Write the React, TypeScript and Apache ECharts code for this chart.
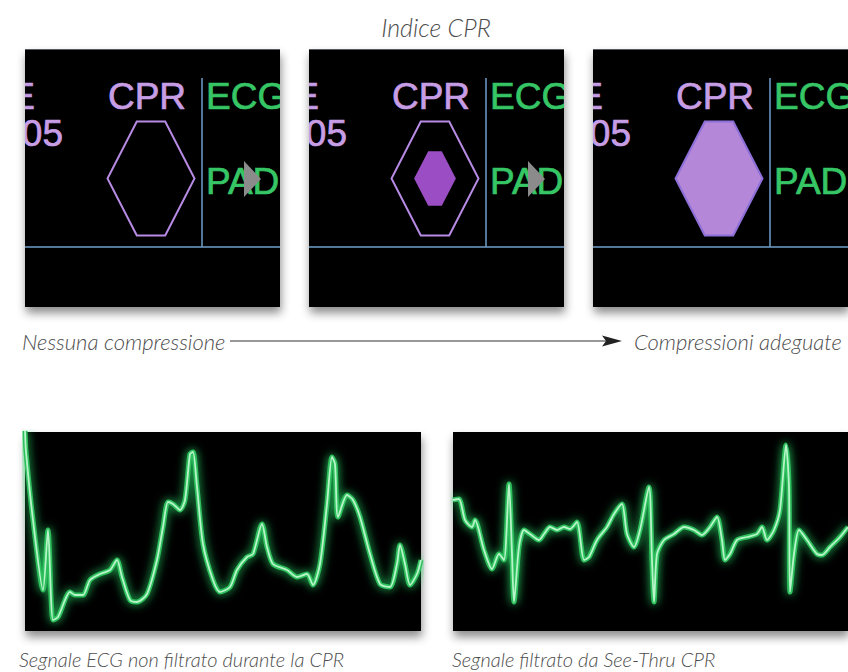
import React, { useEffect, useRef } from "react";
import * as echarts from "echarts";

// ---------- data ----------
const chartTitle = "Indice CPR";
const cprLevels = [0, 0.48, 1];
const panelWords = ["E", "05", "CPR", "ECG", "PAD"];
const topCaptions = ["Nessuna compressione", "Compressioni adeguate"];
const bottomCaptions = [
  "Segnale ECG non filtrato durante la CPR",
  "Segnale filtrato da See-Thru CPR",
];

// unfiltered ECG during CPR (time units, amplitude units)
const uTime = [0, 1, 8, 18, 23, 28, 33, 45, 50, 58, 65, 75, 85, 92, 97, 105, 112, 122, 132, 138, 143, 148, 155, 160, 165, 168, 172, 178, 188, 195, 205, 212, 222, 228, 237, 242, 248, 262, 272, 282, 288, 295, 302, 307, 310, 313, 322, 328, 335, 345, 355, 365, 372, 375, 380, 385, 392, 396];
const uAmp = [200, 179, 111, 41, 101, 11, 14, 39, 36, 36, 51, 57, 61, 71, 54, 31, 29, 37, 71, 104, 129, 127, 121, 131, 177, 179, 144, 87, 51, 39, 44, 61, 74, 77, 107, 84, 67, 61, 54, 57, 46, 67, 127, 174, 167, 114, 136, 131, 114, 77, 47, 44, 67, 86, 67, 46, 57, 71];

// filtered (See-Thru CPR)
const fTime = [0, 6, 12, 19, 22, 31, 39, 46, 51, 56, 59, 61, 66, 71, 77, 86, 91, 97, 104, 111, 117, 124, 131, 136, 144, 154, 161, 169, 174, 181, 187, 196, 199, 201, 204, 211, 221, 231, 241, 249, 257, 264, 269, 272, 277, 284, 294, 304, 309, 314, 321, 327, 333, 336, 337, 341, 346, 354, 364, 369, 377, 387, 395];
const fAmp = [131, 132, 111, 104, 111, 81, 62, 77, 71, 147, 77, 29, 84, 101, 97, 91, 97, 104, 101, 104, 102, 109, 71, 74, 91, 104, 117, 127, 97, 84, 101, 144, 71, 29, 77, 91, 97, 104, 101, 96, 104, 114, 91, 71, 77, 91, 94, 97, 104, 91, 101, 121, 186, 144, 39, 77, 101, 91, 77, 76, 84, 94, 104];

// ---------- layout / style ----------
const TOP_LEFTS = [25, 309, 593];
const TOP_Y = 49;
const TOP_W = 255;
const TOP_H = 258;
const BOT_Y = 432;
const BOT_H = 199;
const LAV = "#c79de6";
const GREEN = "#36c665";
const BLUE = "#6f9fcb";
const TOP_CAPTION_FONT = 'italic 300 22px Lato, "Open Sans", sans-serif';
const BOT_CAPTION_FONT = 'italic 300 20px Lato, "Open Sans", sans-serif';
const MONO_FONT = '37px "Liberation Sans", Arial, sans-serif';
const CAPTION_COLOR = "#4d4d4d";

const panelShadow = {
  show: true,
  backgroundColor: "#040404",
  borderWidth: 0,
  shadowBlur: 10,
  shadowOffsetX: 1,
  shadowOffsetY: 6,
  shadowColor: "rgba(0,0,0,0.45)",
};

function hexPoints(cx: number, cy: number, hw: number, hh: number, ht: number) {
  return [
    [cx - ht, cy - hh],
    [cx + ht, cy - hh],
    [cx + hw, cy],
    [cx + ht, cy + hh],
    [cx - ht, cy + hh],
    [cx - hw, cy],
  ];
}

export default function App() {
  const ref = useRef<HTMLDivElement>(null);

  useEffect(() => {
    const chart = echarts.init(ref.current!, null, { renderer: "svg" });

    const grids: any[] = [];
    const xAxes: any[] = [];
    const yAxes: any[] = [];
    const series: any[] = [];

    TOP_LEFTS.forEach((left, i) => {
      grids.push({ left, top: TOP_Y, width: TOP_W, height: TOP_H, ...panelShadow });
      xAxes.push({ type: "value", gridIndex: i, min: 0, max: TOP_W, show: false });
      yAxes.push({ type: "value", gridIndex: i, min: 0, max: TOP_H, inverse: true, show: false });
      series.push({
        type: "custom",
        xAxisIndex: i,
        yAxisIndex: i,
        clip: true,
        silent: true,
        data: [[i, cprLevels[i]]],
        renderItem: (params: any, api: any) => {
          const level = api.value(1) as number;
          const p = (x: number, y: number) => api.coord([x, y]);
          const pts = (arr: number[][]) => arr.map((q) => p(q[0], q[1]));
          const txt = (text: string, x: number, y: number, fill: string, align: string) => {
            const c = p(x, y);
            return {
              type: "text",
              x: c[0],
              y: c[1],
              style: {
                text,
                fill,
                stroke: fill,
                lineWidth: 0.7,
                font: MONO_FONT,
                textAlign: align,
                textVerticalAlign: "middle",
                shadowBlur: 6,
                shadowColor: fill,
              },
            };
          };
          const cx = 126, cy = 129.5, hw = 43.5, hh = 57, ht = 14.2;
          const children: any[] = [];
          const t1 = p(0, 0.5), t2 = p(TOP_W, 0.5);
          children.push({ type: "line", shape: { x1: t1[0], y1: t1[1], x2: t2[0], y2: t2[1] }, style: { stroke: "#555b60", lineWidth: 1 } });
          const a = p(0, 198), b = p(TOP_W, 198);
          children.push({ type: "line", shape: { x1: a[0], y1: a[1], x2: b[0], y2: b[1] }, style: { stroke: BLUE, lineWidth: 1.5 } });
          const v1 = p(177, 29), v2 = p(177, 198);
          children.push({ type: "line", shape: { x1: v1[0], y1: v1[1], x2: v2[0], y2: v2[1] }, style: { stroke: BLUE, lineWidth: 1.5 } });
          children.push(txt(panelWords[0], 10, 47, LAV, "right"));
          children.push(txt(panelWords[1], 38, 84, LAV, "right"));
          children.push(txt(panelWords[2], 122, 47, LAV, "center"));
          children.push(txt(panelWords[3], 181, 47, GREEN, "left"));
          children.push(txt(panelWords[4], 181, 132, GREEN, "left"));
          if (level >= 1) {
            children.push({
              type: "polygon",
              shape: { points: pts(hexPoints(cx, cy, hw, hh, ht)) },
              style: { fill: "#b487d9", stroke: "#8c6fd8", lineWidth: 2 },
            });
          } else {
            children.push({
              type: "polygon",
              shape: { points: pts(hexPoints(cx, cy, hw, hh, ht)) },
              style: { fill: "none", stroke: "#b78be4", lineWidth: 2 },
            });
            if (level > 0) {
              children.push({
                type: "polygon",
                shape: { points: pts(hexPoints(cx, cy, hw * level, hh * level, ht * level)) },
                style: { fill: "#9b4ec3" },
              });
            }
            children.push({
              type: "polygon",
              shape: { points: pts([[219, 112], [236, 130], [219, 148]]) },
              style: { fill: "#8b8b8b" },
            });
          }
          return { type: "group", children };
        },
      });
    });

    const bottomPanels = [
      { left: 25, width: 396, time: uTime, amp: uAmp },
      { left: 453, width: 395, time: fTime, amp: fAmp },
    ];
    bottomPanels.forEach((bp, k) => {
      const gi = 3 + k;
      grids.push({ left: bp.left, top: BOT_Y, width: bp.width, height: BOT_H, ...panelShadow });
      xAxes.push({ type: "value", gridIndex: gi, min: 0, max: bp.width, show: false });
      yAxes.push({ type: "value", gridIndex: gi, min: 0, max: BOT_H, show: false });
      const data = bp.time.map((t, j) => [t, bp.amp[j]]);
      series.push({
        type: "line",
        xAxisIndex: gi,
        yAxisIndex: gi,
        data,
        showSymbol: false,
        smooth: 0.25,
        silent: true,
        clip: true,
        lineStyle: { color: "#2fbf5d", width: 5, shadowBlur: 10, shadowColor: "rgba(40,230,110,0.9)" },
      });
      series.push({
        type: "line",
        xAxisIndex: gi,
        yAxisIndex: gi,
        data,
        showSymbol: false,
        smooth: 0.25,
        silent: true,
        clip: true,
        lineStyle: { color: "#b7f5c9", width: 1.8 },
      });
    });

    const option: any = {
      animation: false,
      backgroundColor: "#ffffff",
      grid: grids,
      xAxis: xAxes,
      yAxis: yAxes,
      series,
      graphic: [
        {
          type: "text",
          x: 436,
          y: 27,
          style: { text: chartTitle, fill: CAPTION_COLOR, font: 'italic 300 25px Lato, "Open Sans", sans-serif', textAlign: "center", textVerticalAlign: "middle" },
        },
        {
          type: "text",
          x: 22,
          y: 341,
          style: { text: topCaptions[0], fill: CAPTION_COLOR, font: TOP_CAPTION_FONT, textAlign: "left", textVerticalAlign: "middle" },
        },
        {
          type: "text",
          x: 634,
          y: 341,
          style: { text: topCaptions[1], fill: CAPTION_COLOR, font: TOP_CAPTION_FONT, textAlign: "left", textVerticalAlign: "middle" },
        },
        {
          type: "line",
          shape: { x1: 230, y1: 341, x2: 607, y2: 341 },
          style: { stroke: "#333333", lineWidth: 1.2 },
        },
        {
          type: "polygon",
          shape: { points: [[602, 335.5], [622, 341], [602, 346.5], [606, 341]] },
          style: { fill: "#222222" },
        },
        {
          type: "text",
          x: 19,
          y: 659,
          style: { text: bottomCaptions[0], fill: CAPTION_COLOR, font: BOT_CAPTION_FONT, textAlign: "left", textVerticalAlign: "middle" },
        },
        {
          type: "text",
          x: 452,
          y: 659,
          style: { text: bottomCaptions[1], fill: CAPTION_COLOR, font: BOT_CAPTION_FONT, textAlign: "left", textVerticalAlign: "middle" },
        },
      ],
    };

    chart.setOption(option);
    return () => chart.dispose();
  }, []);

  return <div ref={ref} style={{ position: "fixed", left: 0, top: 0, width: 848, height: 672 }} />;
}
